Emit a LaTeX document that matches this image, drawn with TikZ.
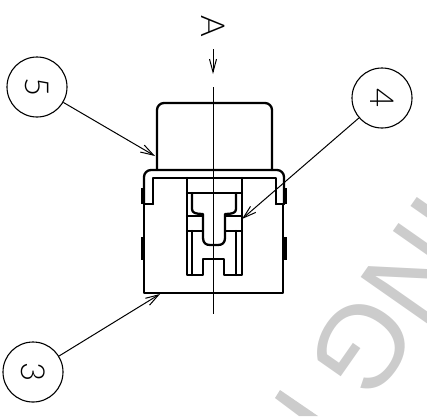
\documentclass[tikz,border=0pt]{standalone}
\usepackage{fontspec}
\setmainfont{Liberation Sans}
\newfontfamily\lightf{Lato Light}
\usetikzlibrary{arrows.meta}
\definecolor{wm}{gray}{0.80}
\tikzset{
  heavy/.style={line width=2.3pt,line join=round,line cap=round},
  thinline/.style={line width=0.9pt},
  callout/.style={circle,draw,line width=1.1pt,minimum size=60pt,inner sep=0pt,font=\lightf\fontsize{33}{33}\selectfont,rotate=-90},
  leader/.style={line width=1pt,-{Straight Barb[length=13pt,width=8pt,line width=1pt]}},
  watermark/.style={text=wm,font=\fontsize{118}{118}\selectfont,rotate=-125,inner sep=0pt,text height=85pt,text depth=0pt}
}
\begin{document}
\begin{tikzpicture}[x=1pt,y=-1pt]
\useasboundingbox (0,0) rectangle (427,416);
\begin{scope}
\clip (0,0) rectangle (427,416);
\node[watermark] (wmark) at (398,299) {ING};
\fill[wm] (280,390) -- (275,398) -- (299,416) -- (318,416) -- cycle;
\end{scope}
% cap
\draw[heavy,rounded corners=7pt] (157,170) -- (157,103) -- (272,103) -- (272,170);
% clip
\draw[heavy,rounded corners=7pt] (144,204) -- (144,170) -- (284,170) -- (284,204);
\draw[heavy] (284,204) -- (276,204);
\draw[heavy] (144,204) -- (153,204);
\draw[heavy] (276,204) -- (276,178) -- (153,178) -- (153,204);
\draw[line width=3.5pt] (143,188) -- (143,204);
\draw[line width=3.5pt] (285,188) -- (285,204);
% housing
\draw[heavy] (144,204) -- (144,293) -- (283,293) -- (283,204);
\draw[line width=3.5pt] (143,237) -- (143,260);
\draw[line width=3.5pt] (285,237) -- (285,260);
% inner cavity
\draw[heavy] (187,178) -- (187,275) -- (203,275) -- (203,259) -- (224,259) -- (224,275) -- (242,275) -- (242,178);
\draw[heavy] (187,193) -- (242,193);
\draw[heavy] (192,193) -- (192,209) .. controls (192,213) and (196,214) .. (203,214) -- (203,238) .. controls (203,243) and (206,245) .. (210,245) -- (218,245) .. controls (222,245) and (225,243) .. (225,238) -- (225,214) .. controls (232,214) and (236,213) .. (236,209) -- (236,193);
\draw[heavy] (187,216) -- (203,216);
\draw[heavy] (187,231) -- (203,231);
\draw[heavy] (225,216) -- (242,216);
\draw[heavy] (225,231) -- (242,231);
\draw[heavy] (192,231) -- (192,275);
\draw[heavy] (236,231) -- (236,275);
% centre line
\coordinate (ctop) at (213.5,87);
\coordinate (cbot) at (213.5,314);
\draw[thinline] (ctop) -- (cbot);
% view arrow
\node[font=\lightf\fontsize{33}{33}\selectfont,rotate=-90,inner sep=0pt] (viewA) at (213,26) {A};
\coordinate (vstart) at (213,49);
\coordinate (vend) at (213,74);
\draw[line width=1pt,-{Straight Barb[length=13pt,width=7pt,line width=1pt]}] (vstart) -- (vend);
% callouts
\node[callout] (c5) at (37,87) {5};
\node[callout] (c4) at (382,98) {4};
\node[callout] (c3) at (33,372) {3};
\coordinate (t5) at (155,156);
\coordinate (t4) at (242,219);
\coordinate (t3) at (160,294);
\draw[leader] (c5) -- (t5);
\draw[leader] (c4) -- (t4);
\draw[leader] (c3) -- (t3);
\end{tikzpicture}
\end{document}
